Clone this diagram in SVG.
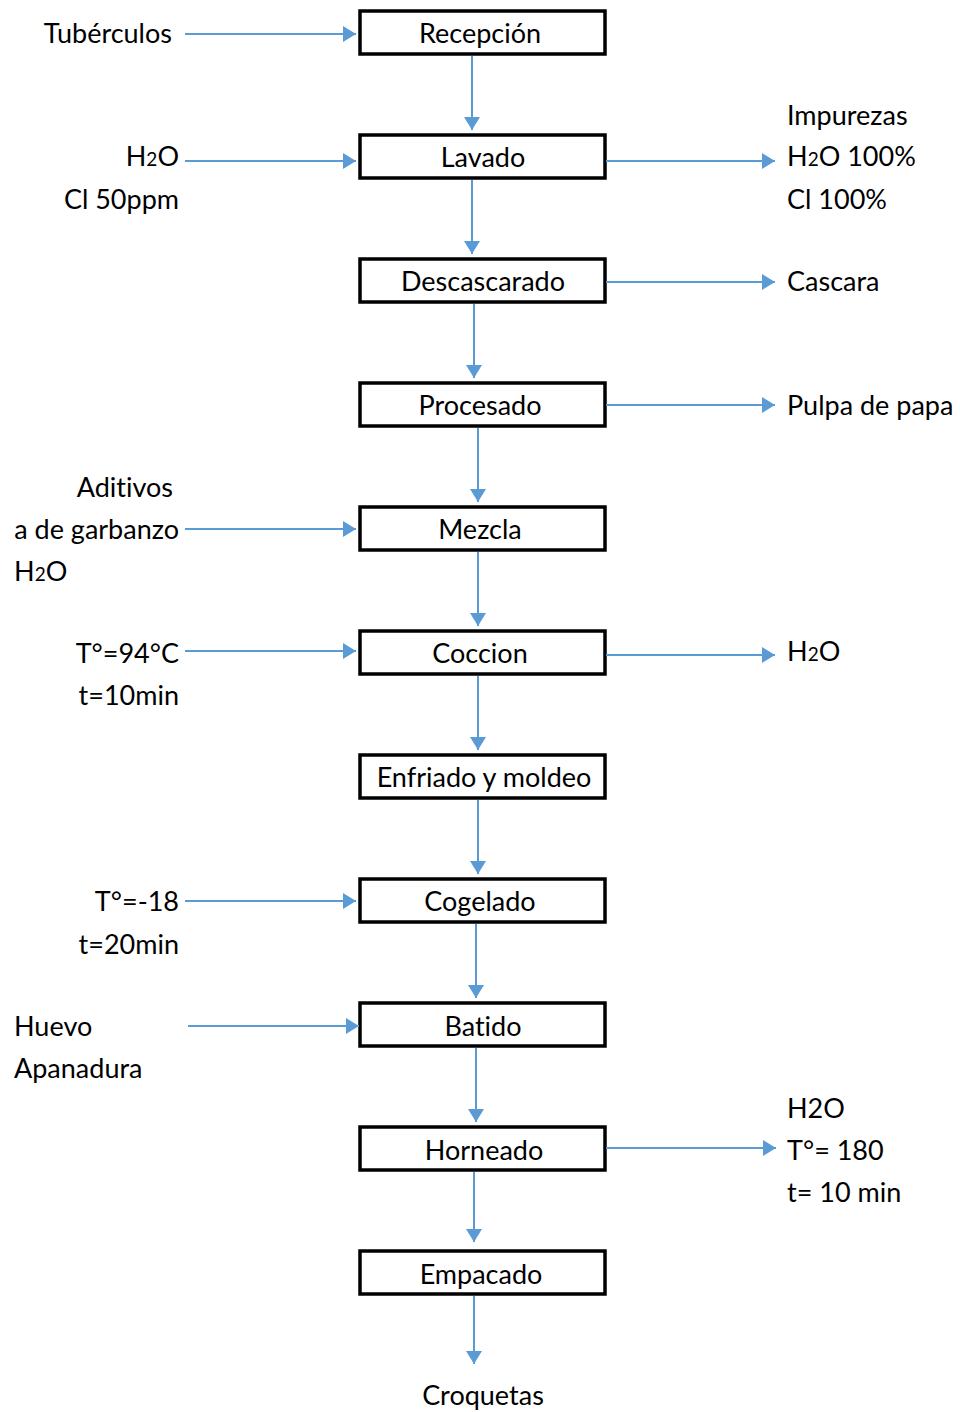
<svg xmlns="http://www.w3.org/2000/svg" width="960" height="1412" viewBox="0 0 960 1412">
  <style>
    .box { fill: #ffffff; stroke: #000000; stroke-width: 3.5; }
    .lbl { font-family: Lato, "Open Sans", "Liberation Sans", sans-serif; font-size: 27px; fill: #000000; font-variant-ligatures: none; font-feature-settings: "liga" 0; }
    .c { text-anchor: middle; }
    .r { text-anchor: end; }
    .sub { font-size: 19px; }
    .flow { stroke: #5B9BD5; stroke-width: 2; fill: none; marker-end: url(#arrow); }
  </style>
  <defs>
    <marker id="arrow" markerUnits="userSpaceOnUse" markerWidth="14" markerHeight="16" refX="13" refY="8" orient="auto">
      <path d="M0,0 L13,8 L0,16 Z" fill="#5B9BD5"/>
    </marker>
  </defs>
  <rect width="960" height="1412" fill="#ffffff"/>

  <!-- process steps -->
  <g id="recepcion"><rect class="box" x="360" y="11" width="245" height="43"/><text class="lbl c" x="480" y="43">Recepción</text></g>
  <g id="lavado"><rect class="box" x="360" y="135" width="245" height="43"/><text class="lbl c" x="483" y="167">Lavado</text></g>
  <g id="descascarado"><rect class="box" x="360" y="259" width="245" height="43"/><text class="lbl c" x="483" y="291">Descascarado</text></g>
  <g id="procesado"><rect class="box" x="360" y="383" width="245" height="43"/><text class="lbl c" x="480" y="415">Procesado</text></g>
  <g id="mezcla"><rect class="box" x="360" y="507" width="245" height="43"/><text class="lbl c" x="480" y="539">Mezcla</text></g>
  <g id="coccion"><rect class="box" x="360" y="631" width="245" height="43"/><text class="lbl c" x="480" y="663">Coccion</text></g>
  <g id="enfriado"><rect class="box" x="360" y="755" width="245" height="43"/><text class="lbl c" x="484" y="787">Enfriado y moldeo</text></g>
  <g id="cogelado"><rect class="box" x="360" y="879" width="245" height="43"/><text class="lbl c" x="480" y="911">Cogelado</text></g>
  <g id="batido"><rect class="box" x="360" y="1003" width="245" height="43"/><text class="lbl c" x="483" y="1036">Batido</text></g>
  <g id="horneado"><rect class="box" x="360" y="1127" width="245" height="43"/><text class="lbl c" x="484" y="1160">Horneado</text></g>
  <g id="empacado"><rect class="box" x="360" y="1251" width="245" height="43"/><text class="lbl c" x="481" y="1284">Empacado</text></g>

  <!-- inputs and outputs -->
  <g id="in-tuberculos"><text class="lbl r" x="172" y="43">Tubérculos</text></g>
  <g id="in-lavado">
    <text class="lbl r" x="179" y="166">H<tspan class="sub">2</tspan>O</text>
    <text class="lbl r" x="179" y="209">Cl 50ppm</text>
  </g>
  <g id="out-lavado">
    <text class="lbl" x="787" y="125">Impurezas</text>
    <text class="lbl" x="787" y="166">H<tspan class="sub">2</tspan>O 100%</text>
    <text class="lbl" x="787" y="209">Cl 100%</text>
  </g>
  <g id="out-descascarado"><text class="lbl" x="787" y="291">Cascara</text></g>
  <g id="out-procesado"><text class="lbl" x="787" y="415">Pulpa de papa</text></g>
  <g id="in-mezcla">
    <text class="lbl r" x="173" y="497">Aditivos</text>
    <text class="lbl r" x="179" y="539">a de garbanzo</text>
    <text class="lbl" x="14" y="581">H<tspan class="sub">2</tspan>O</text>
  </g>
  <g id="in-coccion">
    <text class="lbl r" x="179" y="663">T°=94°C</text>
    <text class="lbl r" x="179" y="705">t=10min</text>
  </g>
  <g id="out-coccion"><text class="lbl" x="787" y="661">H<tspan class="sub">2</tspan>O</text></g>
  <g id="in-cogelado">
    <text class="lbl r" x="179" y="911">T°=-18</text>
    <text class="lbl r" x="179" y="954">t=20min</text>
  </g>
  <g id="in-batido">
    <text class="lbl" x="14" y="1036">Huevo</text>
    <text class="lbl" x="14" y="1078">Apanadura</text>
  </g>
  <g id="out-horneado">
    <text class="lbl" x="787" y="1118">H2O</text>
    <text class="lbl" x="787" y="1160">T°= 180</text>
    <text class="lbl" x="787" y="1202">t= 10 min</text>
  </g>
  <g id="product"><text class="lbl c" x="483" y="1405">Croquetas</text></g>

  <!-- connectors -->
  <g id="connectors">
    <line class="flow" x1="472" y1="56" x2="472" y2="130"/>
    <line class="flow" x1="472" y1="180" x2="472" y2="254"/>
    <line class="flow" x1="474" y1="304" x2="474" y2="378"/>
    <line class="flow" x1="478" y1="428" x2="478" y2="502"/>
    <line class="flow" x1="478" y1="552" x2="478" y2="626"/>
    <line class="flow" x1="478" y1="676" x2="478" y2="750"/>
    <line class="flow" x1="478" y1="800" x2="478" y2="874"/>
    <line class="flow" x1="476" y1="924" x2="476" y2="998"/>
    <line class="flow" x1="476" y1="1048" x2="476" y2="1122"/>
    <line class="flow" x1="474" y1="1172" x2="474" y2="1242"/>
    <line class="flow" x1="474" y1="1296" x2="474" y2="1364"/>

    <line class="flow" x1="185" y1="34" x2="356" y2="34"/>
    <line class="flow" x1="185" y1="161" x2="356" y2="161"/>
    <line class="flow" x1="185" y1="529" x2="356" y2="529"/>
    <line class="flow" x1="185" y1="651" x2="356" y2="651"/>
    <line class="flow" x1="185" y1="901" x2="356" y2="901"/>
    <line class="flow" x1="188" y1="1026" x2="359" y2="1026"/>

    <line class="flow" x1="606" y1="161" x2="775" y2="161"/>
    <line class="flow" x1="606" y1="282" x2="775" y2="282"/>
    <line class="flow" x1="606" y1="405" x2="775" y2="405"/>
    <line class="flow" x1="606" y1="655" x2="775" y2="655"/>
    <line class="flow" x1="606" y1="1148" x2="776" y2="1148"/>
  </g>
</svg>
